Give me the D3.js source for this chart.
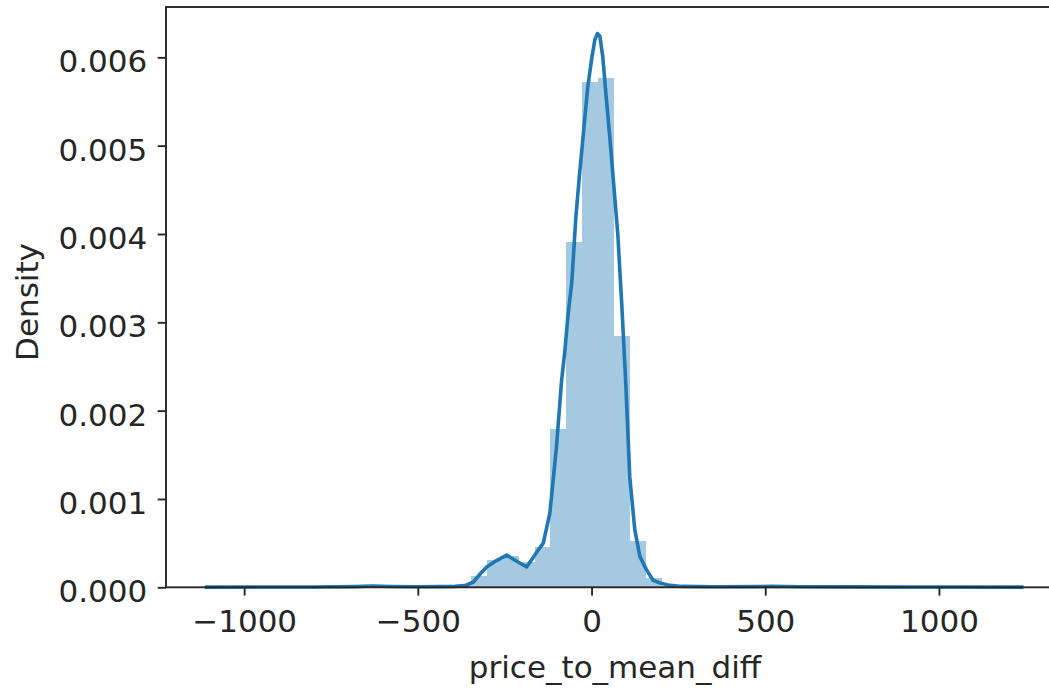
<!DOCTYPE html>
<html>
<head>
<meta charset="utf-8">
<script src="https://cdn.jsdelivr.net/npm/d3@7"></script>
<style>
  html, body { margin: 0; padding: 0; background: #fff; }
  svg { display: block; }
  text { font-family: "DejaVu Sans", sans-serif; fill: #262626; }
</style>
</head>
<body>
<svg id="chart" width="1049" height="690"></svg>
<script>
// ---- data ----
const xLabel = "price_to_mean_diff";
const yLabel = "Density";
const xTicks = [-1000, -500, 0, 500, 1000];
const yTicks = [0, 0.001, 0.002, 0.003, 0.004, 0.005, 0.006];

// histogram: 50 equal bins starting at binStart
const binStart = -1078.1;
const binWidth = 45.7;
const binHeights = [
  0.000003, 0, 0, 0, 0.000003, 0.000005, 0.000005, 0.000008, 0.000005, 0.000008,
  0.000012, 0.000008, 0.000006, 0.00001, 0.00001, 0.00003, 0.00013, 0.00031, 0.00036, 0.00029,
  0.00046, 0.00179, 0.00391, 0.00572, 0.00577, 0.00285, 0.00052, 0.0001, 0.00002, 0.00001,
  0.000005, 0.000005, 0.000008, 0.000005, 0.000003, 0.000005, 0.000003, 0, 0.000003, 0,
  0, 0.000003, 0, 0, 0.000003, 0, 0, 0, 0, 0.000003
];

// KDE curve points
const kdeX = [-1113, -950, -800, -680, -630, -580, -500, -440, -393, -364, -340, -321, -302, -275, -244, -218, -187, -171, -154, -139, -120, -101, -86, -77, -68, -57, -45, -34, -22, -11, 1, 9.5, 17, 24, 32.5, 41, 52.5, 64, 75.5, 87, 98.6, 104, 110, 124.5, 139, 158, 177, 196, 220, 260, 350, 480, 520, 600, 750, 900, 1050, 1243];
const kdeY = [0.000002, 0.000003, 0.000004, 0.000008, 0.000014, 0.000009, 0.000006, 0.000008, 0.00001, 0.00002, 0.00006, 0.00015, 0.00023, 0.0003, 0.000365, 0.0003, 0.00023, 0.00032, 0.00042, 0.0005, 0.00084, 0.00159, 0.00235, 0.00267, 0.00307, 0.00345, 0.0042, 0.0047, 0.0052, 0.00566, 0.006, 0.0062, 0.00627, 0.00624, 0.006, 0.0056, 0.0051, 0.00455, 0.0040, 0.0032, 0.0023, 0.0018, 0.00125, 0.00065, 0.00035, 0.0002, 0.00008, 0.00005, 0.000025, 0.00001, 0.000006, 0.000008, 0.000012, 0.000006, 0.000005, 0.000004, 0.000003, 0.000002];

// ---- layout ----
const plot = { left: 166, right: 1064, top: 7, bottom: 587.3 };
const FS = 31;
const barColor = "#a5c9e1";
const lineColor = "#1f77b4";

const svg = d3.select("#chart");
const x = d3.scaleLinear().domain([-1225, 1360]).range([plot.left, plot.right]);
const y = d3.scaleLinear().domain([0, 0.00657]).range([plot.bottom, plot.top]);

const bins = binHeights.map((h, i) => ({ x0: binStart + i * binWidth, x1: binStart + (i + 1) * binWidth, h }));

// bars
svg.append("g").attr("shape-rendering", "crispEdges")
  .selectAll("rect").data(bins).join("rect")
  .attr("x", d => x(d.x0))
  .attr("width", d => x(d.x1) - x(d.x0))
  .attr("y", d => y(d.h))
  .attr("height", d => y(0) - y(d.h))
  .attr("fill", barColor);

// kde line
const pts = kdeX.map((v, i) => [v, kdeY[i]]);
svg.append("path")
  .datum(pts)
  .attr("fill", "none")
  .attr("stroke", lineColor)
  .attr("stroke-width", 3.6)
  .attr("stroke-linejoin", "round")
  .attr("stroke-linecap", "butt")
  .attr("d", d3.line().x(d => x(d[0])).y(d => y(d[1])));

// axes
const fmtX = v => (v < 0 ? "\u2212" + Math.abs(v) : String(v));
const xAxis = svg.append("g")
  .attr("transform", `translate(0,${plot.bottom})`)
  .call(d3.axisBottom(x).tickValues(xTicks).tickFormat(fmtX).tickSize(8.3).tickPadding(14.5));
const yAxis = svg.append("g")
  .attr("transform", `translate(${plot.left},0)`)
  .call(d3.axisLeft(y).tickValues(yTicks).tickFormat(d3.format(".3f")).tickSize(8.3).tickPadding(10.5));

[xAxis, yAxis].forEach(g => {
  g.select(".domain").remove();
  g.selectAll(".tick line").attr("stroke", "#262626").attr("stroke-width", 1.9);
  g.selectAll(".tick text").attr("font-size", FS).attr("font-family", "DejaVu Sans").attr("fill", "#262626");
});
yAxis.selectAll(".tick text").attr("dy", "0.47em");

// spines
svg.append("rect")
  .attr("x", plot.left).attr("y", plot.top)
  .attr("width", plot.right - plot.left).attr("height", plot.bottom - plot.top)
  .attr("fill", "none").attr("stroke", "#262626").attr("stroke-width", 1.9);

// labels
svg.append("text")
  .attr("x", (plot.left + plot.right) / 2).attr("y", 678)
  .attr("text-anchor", "middle").attr("font-size", FS)
  .text(xLabel);
svg.append("text")
  .attr("transform", `translate(38,${302}) rotate(-90)`)
  .attr("text-anchor", "middle").attr("font-size", FS)
  .text(yLabel);
</script>
</body>
</html>
